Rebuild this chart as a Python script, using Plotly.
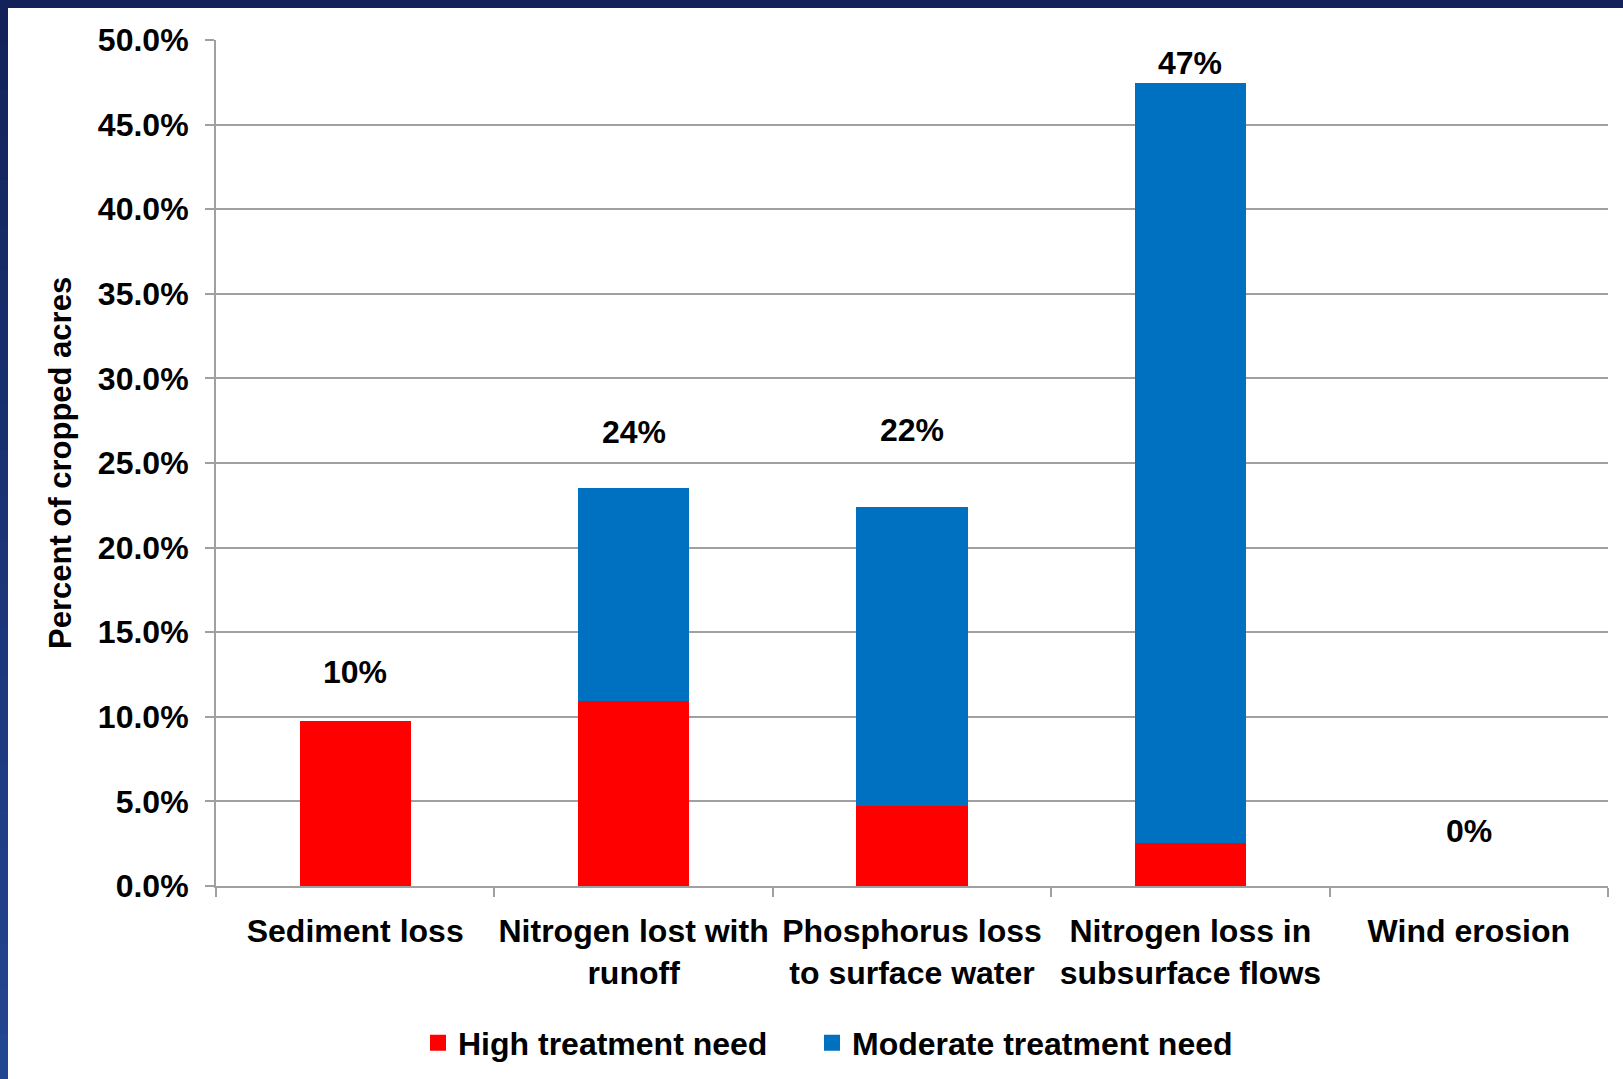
import plotly.graph_objects as go

categories = ["Sediment loss", "Nitrogen lost with<br>runoff", "Phosphorus loss<br>to surface water",
              "Nitrogen loss in<br>subsurface flows", "Wind erosion"]
high_need = [9.73, 10.95, 4.71, 2.54, 0.0]
moderate_need = [0.0, 12.55, 17.69, 44.93, 0.0]
total_labels = ["10%", "24%", "22%", "47%", "0%"]
label_y = [12.65, 26.83, 26.95, 48.64, 3.25]
series_names = ["High treatment need", "Moderate treatment need"]
series_colors = ["#FF0000", "#0070C0"]

W, H = 1623, 1079
ML, MR, MT, MB = 216, 15, 40, 193
PW, PH = W - ML - MR, H - MT - MB

def px_x(p):
    return (p - ML) / PW

def px_y(q):
    return (H - MB - q) / PH

FONT = "Liberation Sans, Arial, sans-serif"

fig = go.Figure()
for vals, name, col in zip([high_need, moderate_need], series_names, series_colors):
    fig.add_trace(go.Bar(x=categories, y=vals, name=name, showlegend=False,
                         marker=dict(color=col, line=dict(width=0))))
# legend entries with larger square symbols, each in its own legend box
legend_ids = ["legend", "legend2"]
legend_x = [418, 812]
for name, col, lid in zip(series_names, series_colors, legend_ids):
    fig.add_trace(go.Scatter(x=[None], y=[None], mode="markers", name=name, legend=lid,
                             marker=dict(symbol="square", size=16, color=col, line=dict(width=0))))

annotations = []
for c, t, yv in zip(categories, total_labels, label_y):
    annotations.append(dict(x=c, y=yv, xref="x", yref="y", text=t, showarrow=False,
                            font=dict(family=FONT, size=32, color="black", weight="bold"),
                            xanchor="center", yanchor="middle"))
annotations.append(dict(x=px_x(60), y=0.5, xref="paper", yref="paper",
                        text="Percent of cropped acres", textangle=-90, showarrow=False,
                        font=dict(family=FONT, size=31, color="black", weight="bold"),
                        xanchor="center", yanchor="middle"))

shapes = []
shapes.append(dict(type="rect", xref="paper", yref="paper", x0=px_x(0), x1=px_x(W),
                   y0=px_y(0), y1=px_y(8), fillcolor="#13235A", line=dict(width=0), layer="above"))
n = 24
c0 = (0x13, 0x23, 0x5A)
c1 = (0x23, 0x46, 0x92)
for i in range(n):
    f = i / (n - 1)
    col = "rgb(%d,%d,%d)" % tuple(int(a + (b - a) * f) for a, b in zip(c0, c1))
    shapes.append(dict(type="rect", xref="paper", yref="paper", x0=px_x(0), x1=px_x(8),
                       y0=px_y(H * i / n), y1=px_y(H * (i + 1) / n + 1),
                       fillcolor=col, line=dict(width=0), layer="above"))

legend_style = dict(orientation="h", y=px_y(1043), xanchor="left", yanchor="middle",
                    font=dict(family=FONT, size=32, color="black", weight="bold"),
                    itemwidth=30, bgcolor="rgba(0,0,0,0)")

fig.update_layout(
    width=W, height=H,
    margin=dict(l=ML, r=MR, t=MT, b=MB, autoexpand=False),
    paper_bgcolor="white", plot_bgcolor="white",
    barmode="stack", bargap=0.6,
    font=dict(family=FONT, color="black"),
    showlegend=True,
    legend=dict(x=px_x(legend_x[0]), **legend_style),
    legend2=dict(x=px_x(legend_x[1]), **legend_style),
    xaxis=dict(type="category", showgrid=False, showline=True, linecolor="#A0A0A0", linewidth=2,
               ticks="outside", tickson="boundaries", ticklen=9, tickcolor="#A0A0A0", tickwidth=2,
               tickangle=0,
               tickfont=dict(family=FONT, size=32, color="black", weight="bold"),
               ticklabelstandoff=16),
    yaxis=dict(range=[0, 50], tickvals=[0, 5, 10, 15, 20, 25, 30, 35, 40, 45, 50],
               ticktext=["0.0%", "5.0%", "10.0%", "15.0%", "20.0%", "25.0%", "30.0%", "35.0%",
                         "40.0%", "45.0%", "50.0%"],
               showgrid=True, gridcolor="#A0A0A0", gridwidth=2,
               showline=True, linecolor="#A0A0A0", linewidth=2, zeroline=False,
               ticks="outside", ticklen=9, tickcolor="#A0A0A0", tickwidth=2,
               tickfont=dict(family=FONT, size=32, color="black", weight="bold"),
               ticklabelstandoff=10),
    annotations=annotations,
    shapes=shapes,
)

fig.write_html("out.html", config={"displayModeBar": False},
               post_script="document.body.style.margin='0';document.body.style.overflow='hidden';")
